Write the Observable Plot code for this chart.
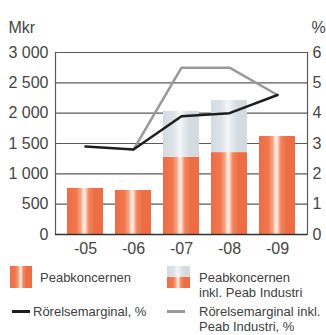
<!DOCTYPE html>
<html>
<head>
<meta charset="utf-8">
<script src="https://cdn.jsdelivr.net/npm/d3@7"></script>
<script src="https://cdn.jsdelivr.net/npm/@observablehq/plot@0.6"></script>
<style>
  body { margin: 0; background: #fff; font-family: "Liberation Sans", Arial, sans-serif; }
  #wrap { position: relative; width: 326px; height: 335px; }
  .lg { position: absolute; font-size: 13px; color: #404040; line-height: 15px; }
  .sw { position: absolute; }
  .og { background: linear-gradient(to right, #f06d44 0%, #f1774c 25%, #f6a27f 38%, #fef3ec 47%, #fbd5c2 52%, #f38a60 60%, #f06d44 75%, #f06d44 100%); }
  .gg { background: linear-gradient(to right, #d3dbe1 0%, #dde3e8 30%, #f5f7f9 47%, #e4e9ed 58%, #d3dbe1 75%, #d3dbe1 100%); }
</style>
</head>
<body>
<div id="wrap"></div>
<script>
const years = ["-05", "-06", "-07", "-08", "-09"];
const peab = [760, 725, 1270, 1350, 1615];
const peabInklTotal = [null, null, 2030, 2210, null];
const marginPct = [2.9, 2.8, 3.9, 4.0, 4.6];
const marginInklPct = [null, 2.8, 5.5, 5.5, 4.6];
const leftTicks = [0, 500, 1000, 1500, 2000, 2500, 3000];
const rightTicks = [0, 1, 2, 3, 4, 5, 6];
const leftUnit = "Mkr";
const rightUnit = "%";

const pctToMkr = 3000 / 6;

const bars = years.map((y, i) => ({year: y, v: peab[i]}));
const grayBars = years.map((y, i) => ({year: y, lo: peab[i], hi: peabInklTotal[i]})).filter(d => d.hi != null);
const line1 = years.map((y, i) => ({year: y, p: marginPct[i]}));
const line2 = years.map((y, i) => ({year: y, p: marginInklPct[i]})).filter(d => d.p != null);

const fmt = d => d3.format(",")(d).replace(/,/g, " ");
const textColor = "#454545";

const svg = Plot.plot({
  width: 326,
  height: 258,
  marginLeft: 55,
  marginRight: 19,
  marginTop: 52,
  marginBottom: 24,
  style: {fontFamily: "'Liberation Sans', Arial, sans-serif", fontSize: "16px", color: textColor, background: "#fff"},
  x: {type: "band", domain: years, padding: 0.24, label: null},
  y: {domain: [0, 3000], label: null},
  marks: [
    Plot.ruleY(leftTicks, {stroke: "#5a5a5a", strokeWidth: 1.2}),
    Plot.barY(bars, {x: "year", y: "v", fill: "url(#gOrange)"}),
    Plot.barY(grayBars, {x: "year", y1: "lo", y2: "hi", fill: "url(#gGray)"}),
    Plot.frame({stroke: "#5a5a5a", strokeWidth: 1.2, anchor: "left"}),
    Plot.frame({stroke: "#5a5a5a", strokeWidth: 1.2, anchor: "right"}),
    Plot.ruleY([0], {stroke: "#333", strokeWidth: 1.6}),
    Plot.lineY(line2, {x: "year", y: d => d.p * pctToMkr, stroke: "#999", strokeWidth: 2.5}),
    Plot.lineY(line1, {x: "year", y: d => d.p * pctToMkr, stroke: "#1e1e1e", strokeWidth: 2.5}),
    Plot.axisY(leftTicks, {anchor: "left", tickSize: 0, tickPadding: 7, tickFormat: fmt, label: null, fontSize: 16, fill: textColor}),
    Plot.axisY(rightTicks.map(d => d * pctToMkr), {anchor: "right", tickSize: 0, tickPadding: 5, tickFormat: d => d / pctToMkr, label: null, fontSize: 16, fill: textColor}),
    Plot.axisX({tickSize: 0, tickPadding: 8, label: null, fontSize: 16, fill: textColor}),
    Plot.text([leftUnit], {frameAnchor: "top-left", dx: -47, dy: -31, text: d => d, textAnchor: "start", fontSize: 16, fill: textColor}),
    Plot.text([rightUnit], {frameAnchor: "top-right", dx: 4, dy: -31, text: d => d, textAnchor: "start", fontSize: 16, fill: textColor})
  ]
});

const defs = d3.select(svg).insert("defs", ":first-child");
const go = defs.append("linearGradient").attr("id", "gOrange").attr("x1", 0).attr("x2", 1).attr("y1", 0).attr("y2", 0);
[[0, "#f06d44"], [0.25, "#f1774c"], [0.38, "#f6a27f"], [0.47, "#fef3ec"], [0.52, "#fbd5c2"], [0.6, "#f38a60"], [0.75, "#f06d44"], [1, "#f06d44"]]
  .forEach(([o, c]) => go.append("stop").attr("offset", o).attr("stop-color", c));
const gg = defs.append("linearGradient").attr("id", "gGray").attr("x1", 0).attr("x2", 1).attr("y1", 0).attr("y2", 0);
[[0, "#d3dbe1"], [0.3, "#dde3e8"], [0.47, "#f5f7f9"], [0.58, "#e4e9ed"], [0.75, "#d3dbe1"], [1, "#d3dbe1"]]
  .forEach(([o, c]) => gg.append("stop").attr("offset", o).attr("stop-color", c));

const wrap = document.getElementById("wrap");
wrap.appendChild(svg);

const legendItems = [
  {kind: "swatch", x: 10, y: 266, text: "Peabkoncernen", tx: 40, ty: 270},
  {kind: "swatch2", x: 167, y: 266, text: "Peabkoncernen<br>inkl. Peab Industri", tx: 199, ty: 270},
  {kind: "line", color: "#1e1e1e", x: 12, y: 310, text: "Rörelsemarginal, %", tx: 33, ty: 304},
  {kind: "line", color: "#999", x: 167, y: 310, text: "Rörelsemarginal inkl.<br>Peab Industri, %", tx: 199, ty: 304}
];
for (const it of legendItems) {
  if (it.kind === "swatch") {
    const s = document.createElement("div");
    s.className = "sw og";
    Object.assign(s.style, {left: it.x + "px", top: it.y + "px", width: "22px", height: "22px"});
    wrap.appendChild(s);
  } else if (it.kind === "swatch2") {
    const a = document.createElement("div");
    a.className = "sw gg";
    Object.assign(a.style, {left: it.x + "px", top: it.y + "px", width: "23px", height: "11px"});
    const b = document.createElement("div");
    b.className = "sw og";
    Object.assign(b.style, {left: it.x + "px", top: (it.y + 11) + "px", width: "23px", height: "11px"});
    wrap.appendChild(a); wrap.appendChild(b);
  } else {
    const l = document.createElement("div");
    l.className = "sw";
    Object.assign(l.style, {left: it.x + "px", top: it.y + "px", width: "18px", height: "3px", background: it.color});
    wrap.appendChild(l);
  }
  const t = document.createElement("div");
  t.className = "lg";
  t.innerHTML = it.text;
  Object.assign(t.style, {left: it.tx + "px", top: it.ty + "px"});
  wrap.appendChild(t);
}
svg.style.position = "absolute";
svg.style.left = "0";
svg.style.top = "0";
</script>
</body>
</html>
